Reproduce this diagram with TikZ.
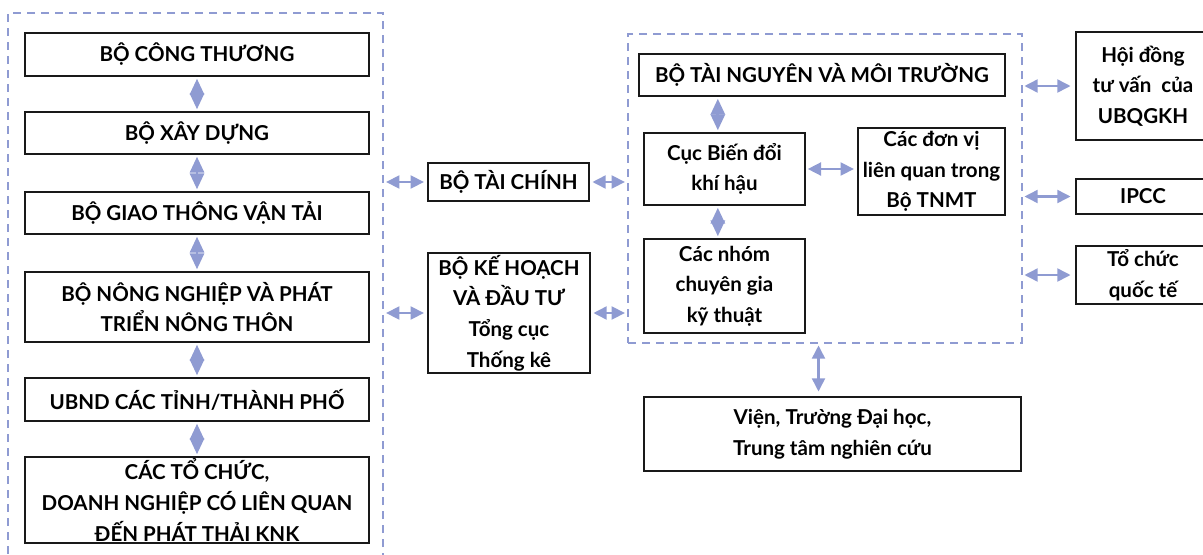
\documentclass[tikz,border=0pt]{standalone}
\usepackage{fontspec}
\setmainfont{Lato}
\usetikzlibrary{arrows.meta,positioning}
\definecolor{linkblue}{RGB}{143,155,210}
\tikzset{
  org/.style={draw=black!90, line width=2pt, inner sep=0pt, align=center, font=\bfseries\fontsize{15.4}{23}\selectfont},
  grp/.style={draw=linkblue, line width=1.5pt, dash pattern=on 6pt off 4.5pt, inner sep=0pt},
  link/.style={draw=linkblue, line width=2.2pt, {Triangle[length=10pt,width=9.5pt]}-{Triangle[length=10pt,width=9.5pt]}},
  vlink/.style={draw=linkblue, line width=2.2pt, {Triangle[length=12pt,width=10.5pt]}-{Triangle[length=12pt,width=10.5pt]}, shorten <=1pt, shorten >=1pt}
}
\begin{document}
\begin{tikzpicture}[x=0.75pt, y=-0.75pt]
\useasboundingbox (0,0) rectangle (1203,554);
% nhom cac bo nganh
\node[grp, minimum width=281.25pt, minimum height=455.25pt] (grpL) at (195.5,316.5) {};
\node[org, minimum width=258pt, minimum height=32.25pt] (bct) at (197,54.5) {BỘ CÔNG THƯƠNG};
\node[org, minimum width=258pt, minimum height=31.5pt] (bxd) at (197,133) {BỘ XÂY DỰNG};
\node[org, minimum width=258pt, minimum height=31.5pt] (bgt) at (197,213) {BỘ GIAO THÔNG VẬN TẢI};
\node[org, minimum width=258pt, minimum height=52.5pt] (bnn) at (197,307) {BỘ NÔNG NGHIỆP VÀ PHÁT\\TRIỂN NÔNG THÔN};
\node[org, minimum width=258pt, minimum height=32.25pt] (ubnd) at (197,399.5) {UBND CÁC TỈNH/THÀNH PHỐ};
\node[org, minimum width=258pt, minimum height=64.5pt] (ctc) at (197,500) {CÁC TỔ CHỨC,\\DOANH NGHIỆP CÓ LIÊN QUAN\\ĐẾN PHÁT THẢI KNK};
\foreach \a/\b in {bct/bxd, bxd/bgt, bgt/bnn, bnn/ubnd, ubnd/ctc}
  \draw[vlink] (\a.south) -- (\b.north);
% cot giua
\node[org, minimum width=120.75pt, minimum height=28.5pt] (tc) at (508.5,182) {BỘ TÀI CHÍNH};
\node[org, minimum width=121.5pt, minimum height=90pt] (kh) at (509,313) {BỘ KẾ HOẠCH\\VÀ ĐẦU TƯ\\Tổng cục\\Thống kê};
% nhom bo tai nguyen
\node[grp, minimum width=295.5pt, minimum height=231.75pt] (grpR) at (825,188.5) {};
\node[org, minimum width=274.5pt, minimum height=31.5pt] (tnmt) at (822,75) {BỘ TÀI NGUYÊN VÀ MÔI TRƯỜNG};
\node[org, minimum width=120.75pt, minimum height=54pt] (cuc) at (724.5,169) {Cục Biến đổi\\khí hậu};
\node[org, minimum width=110.25pt, minimum height=65.25pt] (dv) at (931.5,171.5) {Các đơn vị\\liên quan trong\\Bộ TNMT};
\node[org, minimum width=120.75pt, minimum height=70.5pt] (nhom) at (724.5,286) {Các nhóm\\chuyên gia\\kỹ thuật};
\draw[vlink] ([xshift=-5pt]cuc.north) -- ([xshift=-5pt]cuc.north |- tnmt.south);
\draw[vlink] ([xshift=-5pt]cuc.south) -- ([xshift=-5pt]cuc.south |- nhom.north);
\draw[link, shorten <=1pt, shorten >=2pt] (cuc.east) -- (cuc.east -| dv.west);
% ben ngoai
\node[org, minimum width=100.5pt, minimum height=81pt] (hd) at (1143,86) {Hội đồng\\tư vấn~~của\\UBQGKH};
\node[org, minimum width=100.5pt, minimum height=26.25pt] (ipcc) at (1143,196.5) {IPCC};
\node[org, minimum width=100.5pt, minimum height=43.5pt] (tcqt) at (1143,275) {Tổ chức\\quốc tế};
\node[org, minimum width=282.75pt, minimum height=55.5pt] (vien) at (832.5,434) {Viện, Trường Đại học,\\Trung tâm nghiên cứu};
\foreach \b in {hd, ipcc, tcqt}
  \draw[link, shorten <=1pt, shorten >=3pt] (grpR.east |- \b.west) -- (\b.west);
\draw[link, shorten <=1pt, shorten >=3pt] ([xshift=-10.5pt]vien.north |- grpR.south) -- ([xshift=-10.5pt]vien.north);
\foreach \b in {tc, kh} {
  \draw[link, shorten <=1.5pt, shorten >=2pt] (grpL.east |- \b.west) -- (\b.west);
  \draw[link, shorten <=1.5pt, shorten >=1.5pt] (\b.east) -- (\b.east -| grpR.west);
}
\end{tikzpicture}
\end{document}
